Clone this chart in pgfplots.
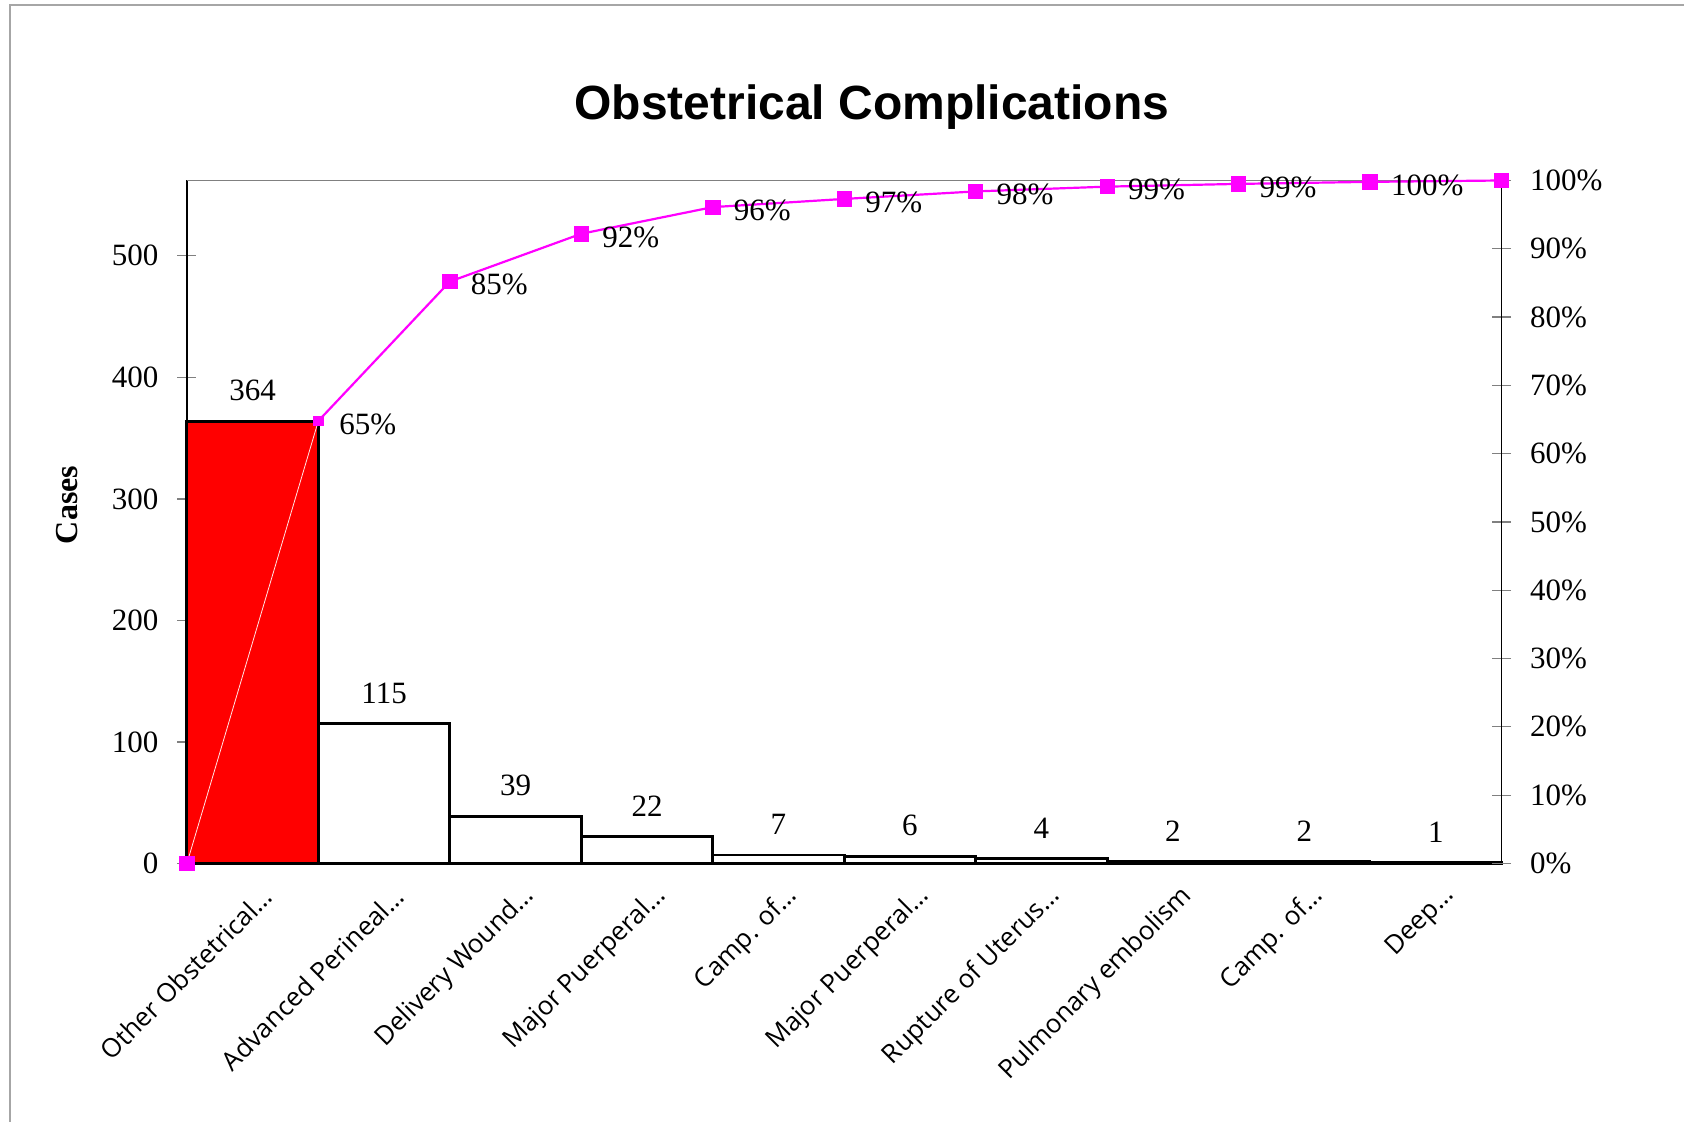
\documentclass[border=0pt]{standalone}
\usepackage{fontspec}
\setmainfont{Liberation Serif}
\newfontfamily\labelfont{Open Sans}
\newfontfamily\titlefont{Liberation Sans}
\usepackage{pgfplots}
\pgfplotsset{compat=1.18}

\definecolor{paretoline}{HTML}{FF00FF}

\begin{document}
\begin{tikzpicture}
% counts (bars)
\begin{axis}[
    scale only axis,
    width=657.3pt, height=341.5pt,
    xmin=0, xmax=10, ymin=0, ymax=562,
    clip=false,
    axis y line*=left, axis x line*=bottom,
    axis line style={black, line width=0.8pt},
    xtick={0.5,1.5,...,9.5},
    xticklabels={Other Obstetrical\dots, Advanced Perineal\dots, Delivery Wound\dots,
        Major Puerperal\dots, Camp. of\dots, Major Puerperal\dots, Rupture of Uterus\dots,
        Pulmonary embolism, Camp. of\dots, Deep\dots},
    xticklabel style={font=\labelfont\fontsize{13}{15}\selectfont, rotate=45, anchor=east, xshift=2pt, yshift=-12pt},
    x tick style={draw=none},
    ytick={0,100,...,500},
    y tick style={gray, line width=0.6pt},
    major tick length=9.5pt, tick align=center,
    yticklabel style={font=\fontsize{15.5}{18}\selectfont, xshift=-6pt},
    /pgf/number format/assume math mode=true,
    ylabel={\textbf{Cases}},
    ylabel style={font=\fontsize{16}{19}\selectfont, at={(axis description cs:-0.0913,0.525)}, anchor=center},
    title={\titlefont\bfseries Obstetrical Complications},
    title style={font=\fontsize{24}{28}\selectfont, at={(axis description cs:0.521,1.072)}, anchor=base},
    nodes near coords,
    every node near coord/.append style={font=\fontsize{15.5}{18}\selectfont, yshift=6pt},
]
\addplot[ybar, bar width=1, bar shift=0pt, draw=black, line width=1.4pt, fill=red]
    coordinates {(0.5,364)};
\addplot[ybar, bar width=1, bar shift=0pt, draw=black, line width=1.4pt, fill=white]
    coordinates {(1.5,115) (2.5,39) (3.5,22) (4.5,7) (5.5,6) (6.5,4) (7.5,2) (8.5,2) (9.5,1)};
\draw[gray, line width=0.8pt] (rel axis cs:0,1) -- (rel axis cs:1,1);
\end{axis}
% cumulative percentage
\begin{axis}[
    scale only axis,
    width=657.3pt, height=341.5pt,
    xmin=0, xmax=10, ymin=0, ymax=100,
    clip=false,
    axis y line*=right, axis x line=none,
    axis line style={black, line width=0.8pt},
    ytick={0,10,...,100},
    y tick style={gray, line width=0.6pt},
    major tick length=9.5pt, tick align=center,
    yticklabel={\pgfmathprintnumber{\tick}\%},
    yticklabel style={font=\fontsize{15.5}{18}\selectfont, xshift=6pt},
    /pgf/number format/assume math mode=true,
]
\addplot[pink!40, line width=0.4pt, mark=none] coordinates {(0,0) (1,64.8)};
\addplot[paretoline, line width=1.1pt, mark=none]
    coordinates {(1,64.8) (2,85.2) (3,92.2) (4,96.1) (5,97.3) (6,98.4) (7,99.1) (8,99.5) (9,99.8) (10,100)};
\addplot[only marks, mark=square*, mark size=3.6pt, paretoline]
    coordinates {(0,0) (2,85.2) (3,92.2) (4,96.1) (5,97.3) (6,98.4) (7,99.1) (8,99.5) (9,99.8) (10,100)};
\addplot[only marks, mark=square*, mark size=2.3pt, paretoline]
    coordinates {(1,64.8)};
\addplot[draw=none, mark=none, nodes near coords, point meta=explicit symbolic,
    every node near coord/.append style={font=\fontsize{15.5}{18}\selectfont, anchor=west, xshift=7pt, yshift=-1.6pt}]
    coordinates {(1,64.8) [65\%] (2,85.2) [85\%] (3,92.2) [92\%] (4,96.1) [96\%] (5,97.3) [97\%]
        (6,98.4) [98\%] (7,99.1) [99\%] (8,99.5) [99\%] (9,99.8) [100\%]};
\end{axis}
% outer frame of the chart area
\draw[gray!70, line width=0.8pt] (-88.45pt,-129.25pt) -- (-88.45pt,429.25pt) -- (748.55pt,429.25pt);
\pgfresetboundingbox
\useasboundingbox (-93.45pt,-129.25pt) rectangle (748.55pt,431.75pt);
\end{tikzpicture}
\end{document}
